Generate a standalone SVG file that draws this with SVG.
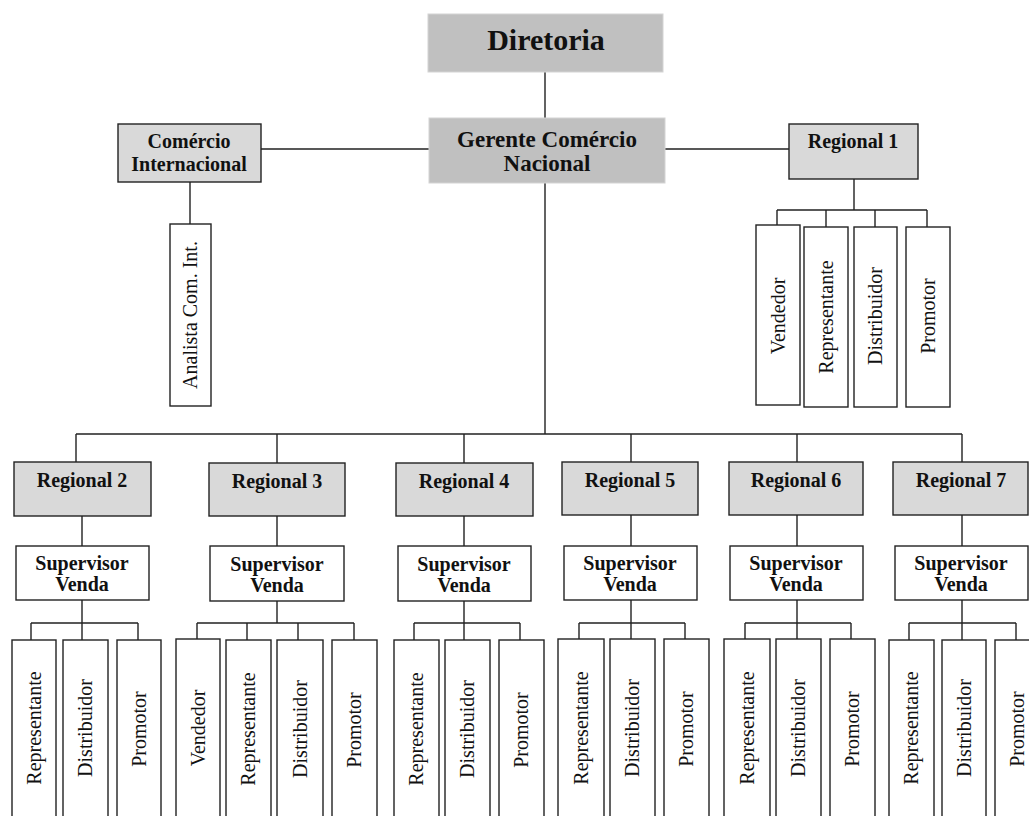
<svg xmlns="http://www.w3.org/2000/svg" width="1029" height="816" viewBox="0 0 1029 816">
<style>
.bg{fill:#ffffff}
.top{fill:#c0c0c0;stroke:#d4d4d4;stroke-width:1}
.reg{fill:#d9d9d9;stroke:#222;stroke-width:1.4}
.box{fill:#ffffff;stroke:#222;stroke-width:1.4}
.ln{stroke:#222;stroke-width:1.4;fill:none}
text{font-family:"Liberation Serif","Times New Roman",serif;fill:#111}
.b{font-weight:bold;text-anchor:middle;font-size:20px}
.v{font-size:20px;text-anchor:middle}
</style>
<rect class="bg" x="0" y="0" width="1029" height="816"/>
<g id="connectors">
<path class="ln" d="M545 72V118 M545 183V434 M261 149H429 M665 149H789 M190 182V224"/>
<path class="ln" d="M854 179V210 M777 210H927 M777 210V225 M826 210V227 M875 210V227 M927 210V227"/>
<path class="ln" d="M76 434H962 M76 434V462 M277 434V463 M464 434V463 M631 434V462 M797 434V462 M962 434V462"/>
<path class="ln" d="M82 516V546 M82 600V640 M31 623H138 M31 623V640 M138 623V640"/>
<path class="ln" d="M277 516V546 M277 601V623 M197 623H354 M197 623V639 M247 623V640 M298 623V640 M354 623V640"/>
<path class="ln" d="M464 516V546 M464 601V640 M414 623H520 M414 623V640 M520 623V640"/>
<path class="ln" d="M631 515V546 M631 600V640 M579 623H685 M579 623V640 M685 623V640"/>
<path class="ln" d="M797 515V546 M797 600V640 M745 623H851 M745 623V640 M851 623V640"/>
<path class="ln" d="M962 515V546 M962 600V640 M909 623H1016 M909 623V640 M1016 623V640"/>
</g>
<g id="diretoria"><rect class="top" x="428" y="14" width="235" height="58"/><text class="b" x="546" y="50" style="font-size:30px">Diretoria</text></g>
<g id="gerente"><rect class="top" x="429" y="118" width="236" height="65"/><text class="b" x="547" y="147" style="font-size:23px">Gerente Comércio</text><text class="b" x="547" y="171" style="font-size:23px">Nacional</text></g>
<g id="comercio-int"><rect class="reg" x="118" y="124" width="143" height="58"/><text class="b" x="189" y="148">Comércio</text><text class="b" x="189" y="171">Internacional</text></g>
<g id="analista"><rect class="box" x="170" y="224" width="41" height="182"/><text class="v" transform="translate(190,315) rotate(-90)" y="7">Analista Com. Int.</text></g>
<g id="regional1"><rect class="reg" x="789" y="124" width="129" height="55"/><text class="b" x="853" y="148">Regional 1</text></g>
<g id="r1-vendedor"><rect class="box" x="756" y="225" width="44" height="180"/><text class="v" transform="translate(778,316) rotate(-90)" y="7">Vendedor</text></g>
<g id="r1-representante"><rect class="box" x="804" y="227" width="44" height="180"/><text class="v" transform="translate(826,317) rotate(-90)" y="7">Representante</text></g>
<g id="r1-distribuidor"><rect class="box" x="854" y="227" width="43" height="180"/><text class="v" transform="translate(875,316) rotate(-90)" y="7">Distribuidor</text></g>
<g id="r1-promotor"><rect class="box" x="906" y="227" width="44" height="180"/><text class="v" transform="translate(928,316) rotate(-90)" y="7">Promotor</text></g>

<g id="regional2"><rect class="reg" x="14" y="462" width="137" height="54"/><text class="b" x="82" y="487">Regional 2</text></g>
<g id="sup2"><rect class="box" x="16" y="546" width="133" height="54"/><text class="b" x="82" y="570">Supervisor</text><text class="b" x="82" y="591">Venda</text></g>
<g id="r2-representante"><rect class="box" x="12" y="640" width="44" height="190"/><text class="v" transform="translate(34,728) rotate(-90)" y="7">Representante</text></g>
<g id="r2-distribuidor"><rect class="box" x="63" y="640" width="45" height="190"/><text class="v" transform="translate(85,728) rotate(-90)" y="7">Distribuidor</text></g>
<g id="r2-promotor"><rect class="box" x="117" y="640" width="44" height="190"/><text class="v" transform="translate(139,729) rotate(-90)" y="7">Promotor</text></g>

<g id="regional3"><rect class="reg" x="209" y="463" width="136" height="53"/><text class="b" x="277" y="488">Regional 3</text></g>
<g id="sup3"><rect class="box" x="210" y="546" width="134" height="55"/><text class="b" x="277" y="571">Supervisor</text><text class="b" x="277" y="592">Venda</text></g>
<g id="r3-vendedor"><rect class="box" x="176" y="639" width="44" height="191"/><text class="v" transform="translate(198,728) rotate(-90)" y="7">Vendedor</text></g>
<g id="r3-representante"><rect class="box" x="226" y="640" width="45" height="190"/><text class="v" transform="translate(248,729) rotate(-90)" y="7">Representante</text></g>
<g id="r3-distribuidor"><rect class="box" x="277" y="640" width="46" height="190"/><text class="v" transform="translate(300,729) rotate(-90)" y="7">Distribuidor</text></g>
<g id="r3-promotor"><rect class="box" x="332" y="640" width="45" height="190"/><text class="v" transform="translate(354,730) rotate(-90)" y="7">Promotor</text></g>

<g id="regional4"><rect class="reg" x="396" y="463" width="137" height="53"/><text class="b" x="464" y="488">Regional 4</text></g>
<g id="sup4"><rect class="box" x="398" y="546" width="133" height="55"/><text class="b" x="464" y="571">Supervisor</text><text class="b" x="464" y="592">Venda</text></g>
<g id="r4-representante"><rect class="box" x="394" y="640" width="45" height="190"/><text class="v" transform="translate(416,729) rotate(-90)" y="7">Representante</text></g>
<g id="r4-distribuidor"><rect class="box" x="445" y="640" width="45" height="190"/><text class="v" transform="translate(467,729) rotate(-90)" y="7">Distribuidor</text></g>
<g id="r4-promotor"><rect class="box" x="499" y="640" width="45" height="190"/><text class="v" transform="translate(521,730) rotate(-90)" y="7">Promotor</text></g>

<g id="regional5"><rect class="reg" x="562" y="462" width="136" height="53"/><text class="b" x="630" y="487">Regional 5</text></g>
<g id="sup5"><rect class="box" x="564" y="546" width="133" height="54"/><text class="b" x="630" y="570">Supervisor</text><text class="b" x="630" y="591">Venda</text></g>
<g id="r5-representante"><rect class="box" x="558" y="639" width="46" height="191"/><text class="v" transform="translate(581,728) rotate(-90)" y="7">Representante</text></g>
<g id="r5-distribuidor"><rect class="box" x="610" y="639" width="45" height="191"/><text class="v" transform="translate(632,728) rotate(-90)" y="7">Distribuidor</text></g>
<g id="r5-promotor"><rect class="box" x="664" y="639" width="45" height="191"/><text class="v" transform="translate(686,729) rotate(-90)" y="7">Promotor</text></g>

<g id="regional6"><rect class="reg" x="729" y="462" width="134" height="53"/><text class="b" x="796" y="487">Regional 6</text></g>
<g id="sup6"><rect class="box" x="730" y="546" width="133" height="54"/><text class="b" x="796" y="570">Supervisor</text><text class="b" x="796" y="591">Venda</text></g>
<g id="r6-representante"><rect class="box" x="724" y="639" width="46" height="191"/><text class="v" transform="translate(747,728) rotate(-90)" y="7">Representante</text></g>
<g id="r6-distribuidor"><rect class="box" x="776" y="639" width="45" height="191"/><text class="v" transform="translate(798,728) rotate(-90)" y="7">Distribuidor</text></g>
<g id="r6-promotor"><rect class="box" x="830" y="639" width="45" height="191"/><text class="v" transform="translate(852,729) rotate(-90)" y="7">Promotor</text></g>

<g id="regional7"><rect class="reg" x="893" y="462" width="135" height="53"/><text class="b" x="961" y="487">Regional 7</text></g>
<g id="sup7"><rect class="box" x="895" y="546" width="133" height="54"/><text class="b" x="961" y="570">Supervisor</text><text class="b" x="961" y="591">Venda</text></g>
<g id="r7-representante"><rect class="box" x="889" y="640" width="45" height="190"/><text class="v" transform="translate(911,728) rotate(-90)" y="7">Representante</text></g>
<g id="r7-distribuidor"><rect class="box" x="942" y="640" width="44" height="190"/><text class="v" transform="translate(964,728) rotate(-90)" y="7">Distribuidor</text></g>
<g id="r7-promotor"><rect class="box" x="995" y="640" width="50" height="190"/><text class="v" transform="translate(1017,729) rotate(-90)" y="7">Promotor</text></g>
</svg>
